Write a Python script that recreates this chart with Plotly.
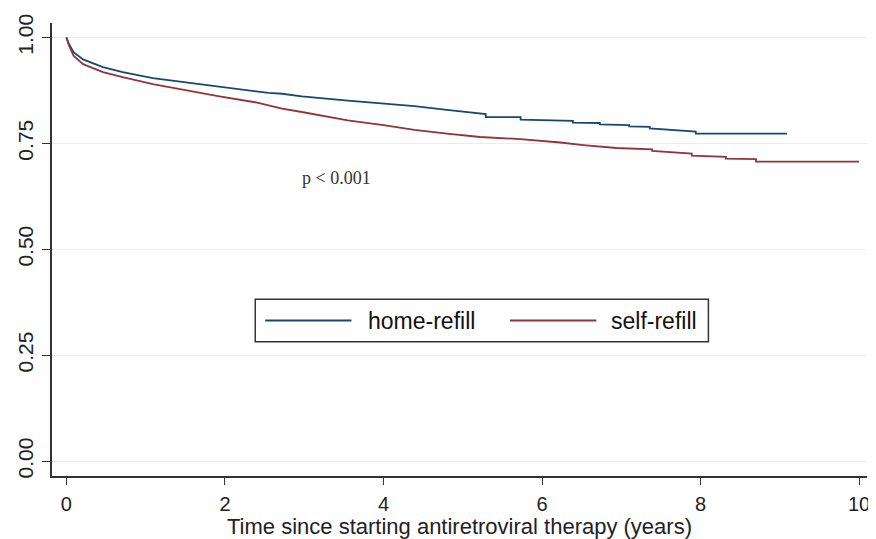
import plotly.graph_objects as go

# Kaplan-Meier style curves
home_x = [0, 0.03, 0.09, 0.21, 0.46, 0.71, 1.09, 1.50, 1.93, 2.55, 2.72, 2.97, 3.55, 4.00, 4.39, 4.80,
          5.22, 5.29, 5.29, 5.73, 5.73, 6.23, 6.39, 6.39, 6.73, 6.73, 7.10, 7.10, 7.36, 7.36, 7.60,
          7.75, 7.94, 7.94, 9.09]
home_y = [1.0, 0.985, 0.965, 0.948, 0.930, 0.918, 0.904, 0.894, 0.883, 0.869, 0.867, 0.861, 0.851, 0.844,
          0.838, 0.829, 0.820, 0.819, 0.812, 0.812, 0.806, 0.803, 0.803, 0.799, 0.798, 0.795, 0.793,
          0.790, 0.789, 0.785, 0.782, 0.779, 0.778, 0.773, 0.773]

self_x = [0, 0.03, 0.09, 0.21, 0.46, 0.71, 1.09, 1.50, 1.93, 2.38, 2.72, 2.97, 3.55, 4.00, 4.39, 4.80,
          5.22, 5.73, 6.10, 6.23, 6.52, 6.94, 7.39, 7.39, 7.89, 7.89, 8.32, 8.32, 8.70, 8.70, 10.0]
self_y = [1.0, 0.982, 0.957, 0.937, 0.918, 0.906, 0.890, 0.875, 0.861, 0.847, 0.832, 0.824, 0.804, 0.793,
          0.782, 0.773, 0.765, 0.760, 0.755, 0.752, 0.746, 0.739, 0.736, 0.732, 0.726, 0.721, 0.718,
          0.714, 0.713, 0.707, 0.707]

series_names = ["home-refill", "self-refill"]
series_colors = ["#1a476f", "#90353b"]

x_ticks = [0, 2, 4, 6, 8, 10]
y_ticks = [0.0, 0.25, 0.5, 0.75, 1.0]
y_labels = ["0.00", "0.25", "0.50", "0.75", "1.00"]

fig = go.Figure()
fig.add_trace(go.Scatter(x=home_x, y=home_y, mode="lines", name=series_names[0],
                         line=dict(color=series_colors[0], width=1.8), showlegend=False))
fig.add_trace(go.Scatter(x=self_x, y=self_y, mode="lines", name=series_names[1],
                         line=dict(color=series_colors[1], width=1.8), showlegend=False))

fig.add_annotation(x=3.41, y=0.668, text="p < 0.001", showarrow=False,
                   font=dict(family="Liberation Serif, Times New Roman, serif", size=18, color="#333333"))

# Legend box (Stata-style, long line samples)
fig.add_shape(type="rect", xref="paper", yref="paper", x0=0.2494, x1=0.8054, y0=0.2961, y1=0.3904,
              line=dict(color="#333333", width=1.5), fillcolor="white", layer="above")
leg_y = 0.3432
for (lx0, lx1, tx), name, col in zip([(0.2616, 0.3674, 0.3856), (0.5620, 0.6679, 0.6837)],
                                     series_names, series_colors):
    fig.add_shape(type="line", xref="paper", yref="paper", x0=lx0, x1=lx1, y0=leg_y, y1=leg_y,
                  line=dict(color=col, width=2), layer="above")
    fig.add_annotation(xref="paper", yref="paper", x=tx, y=leg_y, text=name, showarrow=False,
                       xanchor="left", yanchor="middle",
                       font=dict(family="Liberation Sans, Arial, sans-serif", size=23, color="#111111"))

axis_font = "Liberation Sans, Arial, sans-serif"
fig.update_layout(
    width=868, height=531,
    margin=dict(l=40, r=6, t=12, b=63),
    paper_bgcolor="white", plot_bgcolor="white",
    font=dict(family=axis_font, color="#222222"),
    showlegend=False,
    xaxis=dict(range=[-0.182, 10.1], tickvals=x_ticks, ticks="outside", ticklen=7,
               tickcolor="#333333", showline=True, linecolor="#333333", linewidth=1.5,
               showgrid=False, zeroline=False, tickfont=dict(size=20), ticklabelstandoff=2,
               title=dict(text="Time since starting antiretroviral therapy (years)",
                          font=dict(size=22), standoff=0)),
    yaxis=dict(range=[-0.035, 1.034], tickvals=y_ticks, ticktext=y_labels, ticks="outside",
               ticklen=8, tickcolor="#333333", showline=True, linecolor="#333333", linewidth=1.5,
               showgrid=True, gridcolor="#ececec", gridwidth=1, zeroline=False,
               tickangle=-90, tickfont=dict(size=21), ticklabelstandoff=1),
)

fig.write_html("out.html")
